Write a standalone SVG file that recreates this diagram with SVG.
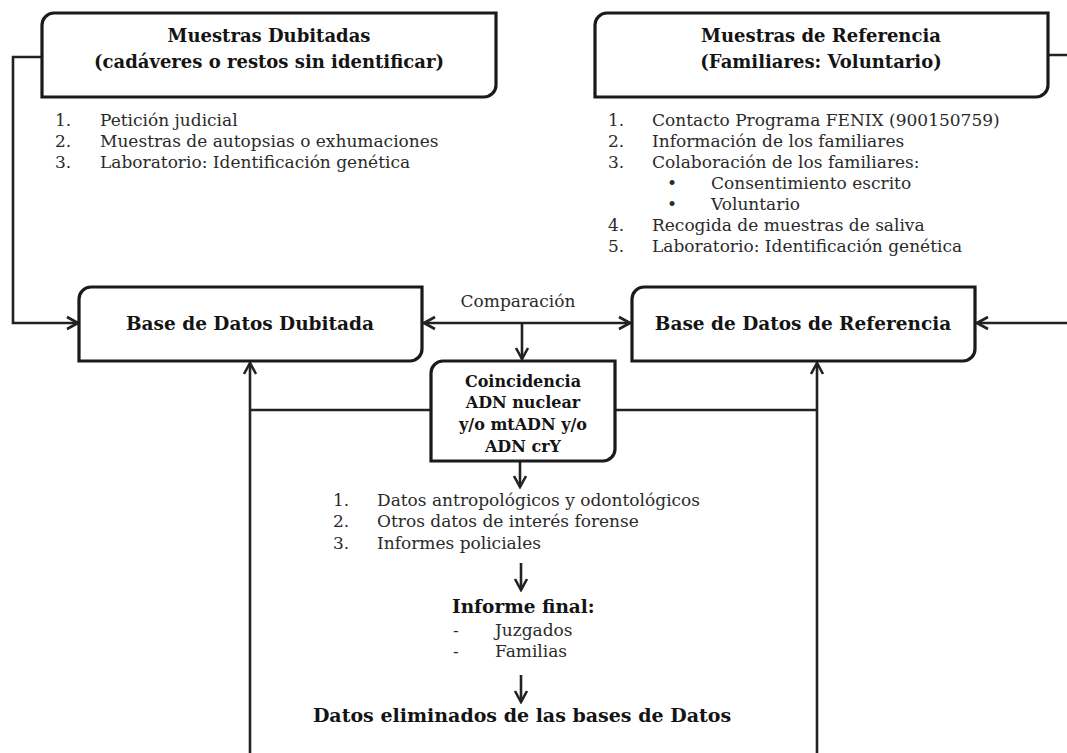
<svg xmlns="http://www.w3.org/2000/svg" width="1067" height="753" viewBox="0 0 1067 753">
<style>
.box{fill:#fff;stroke:#1a1a1a;stroke-width:3.2}
.ln{fill:none;stroke:#222;stroke-width:2.6}
.t{font-family:"DejaVu Serif","Liberation Serif",serif;font-size:17px;fill:#2a2a2a}
.b{font-family:"DejaVu Serif","Liberation Serif",serif;font-weight:bold;fill:#141414}
.h{font-size:18px;text-anchor:middle}
.hb{font-size:18.5px;text-anchor:middle}
.c{font-size:16px;text-anchor:middle}
.m{text-anchor:middle}
</style>
<defs>
<marker id="ar" markerUnits="userSpaceOnUse" markerWidth="16" markerHeight="16" viewBox="0 0 16 16" refX="14" refY="8" orient="auto-start-reverse">
<path d="M3,2 L14,8 L3,14" fill="none" stroke="#222" stroke-width="2.6"/>
</marker>
</defs>

<g id="connectors">
<path class="ln" d="M42,57 H13 V323 H78" marker-end="url(#ar)"/>
<path class="ln" d="M1048,55 H1072 V323 H977" marker-end="url(#ar)"/>
<path class="ln" d="M424,323 H630" marker-start="url(#ar)" marker-end="url(#ar)"/>
<path class="ln" d="M522,323 V359" marker-end="url(#ar)"/>
<path class="ln" d="M520,462 V487" marker-end="url(#ar)"/>
<path class="ln" d="M250,410 H431 M615,410 H817"/>
<path class="ln" d="M250,756 V363" marker-end="url(#ar)"/>
<path class="ln" d="M817,756 V363" marker-end="url(#ar)"/>
<path class="ln" d="M521,563 V590" marker-end="url(#ar)"/>
<path class="ln" d="M521,675 V702" marker-end="url(#ar)"/>
</g>

<g id="muestras-dubitadas">
<path class="box" d="M42,25 A12,12 0 0 1 54,13 H496 V85 A12,12 0 0 1 484,97 H42 Z"/>
<text class="b h" x="269" y="42">Muestras Dubitadas</text>
<text class="b h" x="269" y="68">(cadáveres o restos sin identificar)</text>
</g>

<g id="lista-dubitadas" class="t">
<text x="55" y="126">1.</text><text x="100" y="126">Petición judicial</text>
<text x="55" y="147">2.</text><text x="100" y="147">Muestras de autopsias o exhumaciones</text>
<text x="55" y="168">3.</text><text x="100" y="168">Laboratorio: Identificación genética</text>
</g>

<g id="muestras-referencia">
<path class="box" d="M595,25 A12,12 0 0 1 607,13 H1048 V85 A12,12 0 0 1 1036,97 H595 Z"/>
<text class="b h" x="821" y="42">Muestras de Referencia</text>
<text class="b h" x="821" y="68">(Familiares: Voluntario)</text>
</g>

<g id="lista-referencia" class="t">
<text x="608" y="126">1.</text><text x="652" y="126">Contacto Programa FENIX (900150759)</text>
<text x="608" y="147">2.</text><text x="652" y="147">Información de los familiares</text>
<text x="608" y="168">3.</text><text x="652" y="168">Colaboración de los familiares:</text>
<text x="667" y="189">•</text><text x="711" y="189">Consentimiento escrito</text>
<text x="667" y="210">•</text><text x="711" y="210">Voluntario</text>
<text x="608" y="231">4.</text><text x="652" y="231">Recogida de muestras de saliva</text>
<text x="608" y="252">5.</text><text x="652" y="252">Laboratorio: Identificación genética</text>
</g>

<g id="base-dubitada">
<path class="box" d="M79,299 A12,12 0 0 1 91,287 H422 V349 A12,12 0 0 1 410,361 H79 Z"/>
<text class="b hb" x="250" y="330">Base de Datos Dubitada</text>
</g>

<g id="base-referencia">
<path class="box" d="M632,299 A12,12 0 0 1 644,287 H975 V349 A12,12 0 0 1 963,361 H632 Z"/>
<text class="b hb" x="803" y="330">Base de Datos de Referencia</text>
</g>

<g id="comparacion">
<text class="t m" x="518" y="307">Comparación</text>
</g>

<g id="coincidencia">
<path class="box" d="M431,373 A12,12 0 0 1 443,361 H615 V449 A12,12 0 0 1 603,461 H431 Z"/>
<text class="b c" x="523" y="387">Coincidencia</text>
<text class="b c" x="523" y="408">ADN nuclear</text>
<text class="b c" x="523" y="430">y/o mtADN y/o</text>
<text class="b c" x="523" y="452">ADN crY</text>
</g>

<g id="datos-adicionales" class="t">
<text x="333" y="506">1.</text><text x="377" y="506">Datos antropológicos y odontológicos</text>
<text x="333" y="527">2.</text><text x="377" y="527">Otros datos de interés forense</text>
<text x="333" y="549">3.</text><text x="377" y="549">Informes policiales</text>
</g>

<g id="informe-final">
<text class="b" x="452" y="613" font-size="18.5">Informe final:</text>
<text class="t" x="453" y="636">-</text><text class="t" x="495" y="636">Juzgados</text>
<text class="t" x="453" y="657">-</text><text class="t" x="495" y="657">Familias</text>
</g>

<g id="datos-eliminados">
<text class="b m" x="522" y="722" font-size="19">Datos eliminados de las bases de Datos</text>
</g>
</svg>
